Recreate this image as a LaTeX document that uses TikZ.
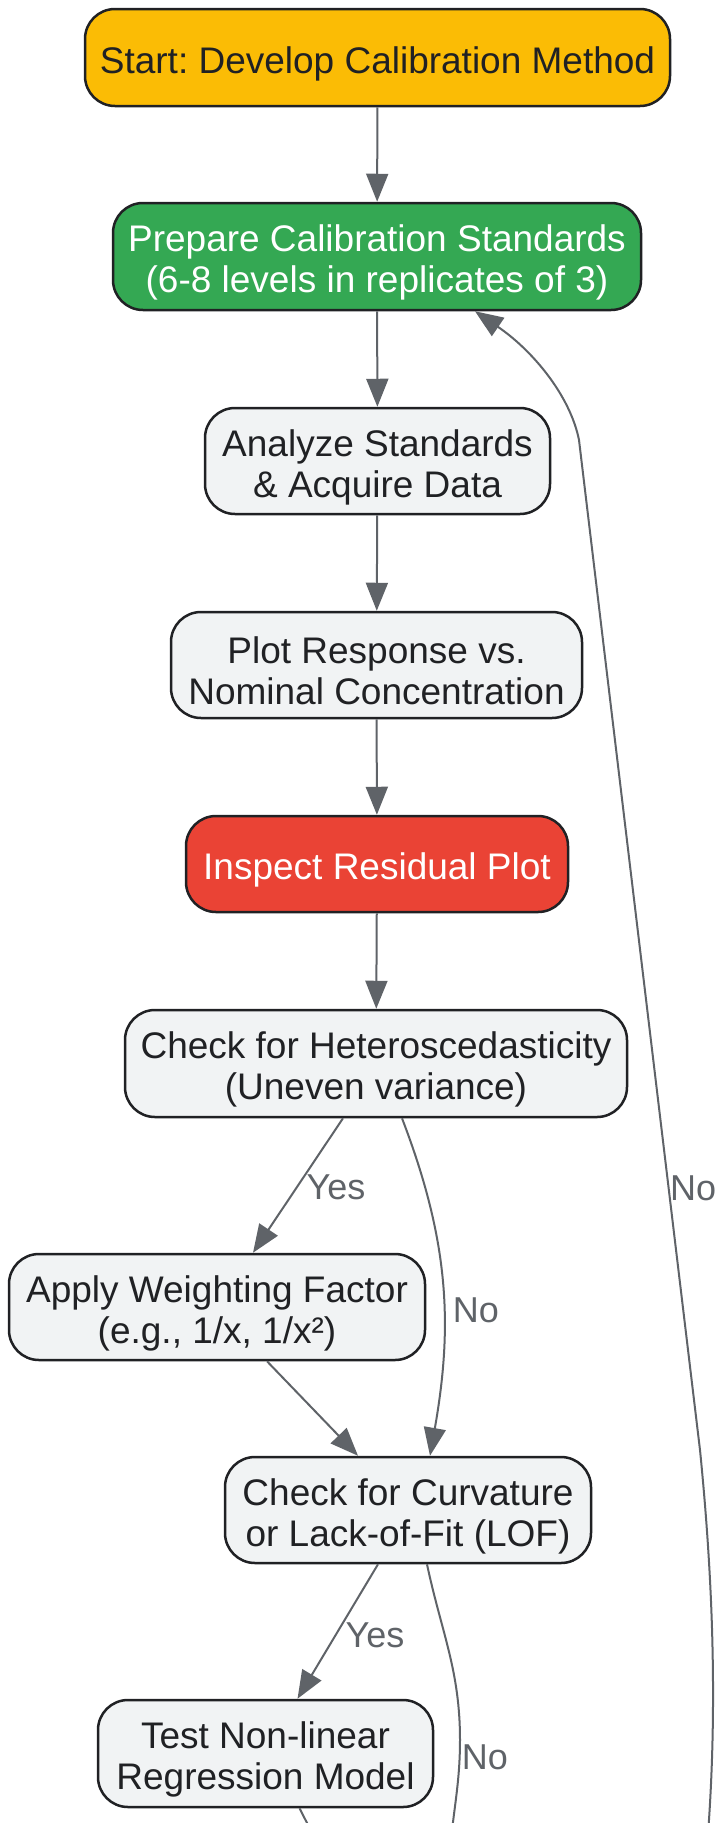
\documentclass[tikz,border=0pt]{standalone}
\usepackage{fontspec}
\setmainfont{Liberation Sans}
\usetikzlibrary{arrows.meta}
\definecolor{c_yellow}{HTML}{FBBC05}
\definecolor{c_green}{HTML}{34A853}
\definecolor{c_red}{HTML}{EA4335}
\definecolor{c_gray}{HTML}{F1F3F4}
\definecolor{c_border}{HTML}{202124}
\definecolor{c_text}{HTML}{202124}
\definecolor{c_edge}{HTML}{5F6368}
\frenchspacing
\newcommand{\topstrut}{\rule{0pt}{39pt}}
\tikzstyle{node_base} = [rectangle, rounded corners=30pt, draw=c_border, line width=2.5pt, align=center, inner sep=0pt, font=\fontsize{37}{41}\selectfont, text=c_text]
\tikzstyle{node_start} = [node_base, fill=c_yellow]
\tikzstyle{node_prep} = [node_base, fill=c_green, text=white]
\tikzstyle{node_alert} = [node_base, fill=c_red, text=white]
\tikzstyle{node_step} = [node_base, fill=c_gray]
\tikzstyle{edge_flow} = [draw=c_edge, line width=2pt, -{Triangle[length=28pt,width=22pt]}]
\tikzstyle{edge_label} = [text=c_edge, font=\fontsize{36}{40}\selectfont, inner sep=0pt]

\begin{document}
\begin{tikzpicture}[x=1pt, y=-1pt]
		\useasboundingbox (0,0) rectangle (717,1823);
		\clip (0,0) rectangle (717,1823);
		\node (S) at (377.5, 57.5) [node_start, minimum width=585pt, minimum height=97pt] {\topstrut Start: Develop Calibration Method};
		\node (P) at (377, 256.5) [node_prep, minimum width=528pt, minimum height=107pt] {\topstrut Prepare Calibration Standards\\(6-8 levels in replicates of 3)};
		\node (A) at (377.5, 461) [node_step, minimum width=345pt, minimum height=106pt] {\topstrut Analyze Standards\\\& Acquire Data};
		\node (R) at (376.5, 665) [node_step, minimum width=411pt, minimum height=106pt] {\topstrut Plot Response vs.\\Nominal Concentration};
		\node (I) at (377, 864) [node_alert, minimum width=382pt, minimum height=96pt] {\topstrut Inspect Residual Plot};
		\node (H) at (376, 1063.5) [node_step, minimum width=502pt, minimum height=107pt] {\topstrut Check for Heteroscedasticity\\(Uneven variance)};
		\node (W) at (217, 1307) [node_step, minimum width=416pt, minimum height=106pt] {\topstrut Apply Weighting Factor\\(e.g., 1/x, 1/x²)};
		\node (C) at (408, 1510) [node_step, minimum width=366pt, minimum height=106pt] {\topstrut Check for Curvature\\or Lack-of-Fit (LOF)};
		\node (N) at (265.5, 1753.5) [node_step, minimum width=335pt, minimum height=107pt] {\topstrut Test Non-linear\\Regression Model};
		\coordinate (C_out) at (449, 1870);
		\coordinate (N_out) at (326, 1860);
		\coordinate (L_in) at (704, 1880);

		\draw[edge_flow] (S)--(P);
		\draw[edge_flow] (P)--(A);
		\draw[edge_flow] (A)--(R);
		\draw[edge_flow] (R)--(I);
		\draw[edge_flow] (I)--(H);
		\draw[edge_flow] ([xshift=-33pt]H.south)--([xshift=36pt]W.north);
		\draw[edge_flow] ([xshift=26pt]H.south) to[out=-69, in=80] ([xshift=22pt]C.north);
		\draw[edge_flow] ([xshift=50pt]W.south)--([xshift=-50pt]C.north);
		\draw[edge_flow] ([xshift=-30pt]C.south)--([xshift=32pt]N.north);
		\draw[draw=c_edge, line width=2pt] ([xshift=19pt]C.south) to[out=-78, in=90] (460, 1740) to[out=-90, in=88] (C_out);
		\draw[draw=c_edge, line width=2pt] ([xshift=34pt]N.south)--(N_out);
		\draw[edge_flow] (L_in) .. controls (718,1740) and (715,1600) .. (700,1450) -- (579,440) .. controls (570,395) and (532,350) .. ([xshift=98pt]P.south);

		\node (yes_h) at (336, 1187) [edge_label] {Yes};
		\node (no_h) at (476, 1310) [edge_label] {No};
		\node (yes_c) at (375, 1635) [edge_label] {Yes};
		\node (no_c) at (485, 1757) [edge_label] {No};
		\node (no_l) at (670, 1188) [edge_label, anchor=west] {No};
\end{tikzpicture}
\end{document}
